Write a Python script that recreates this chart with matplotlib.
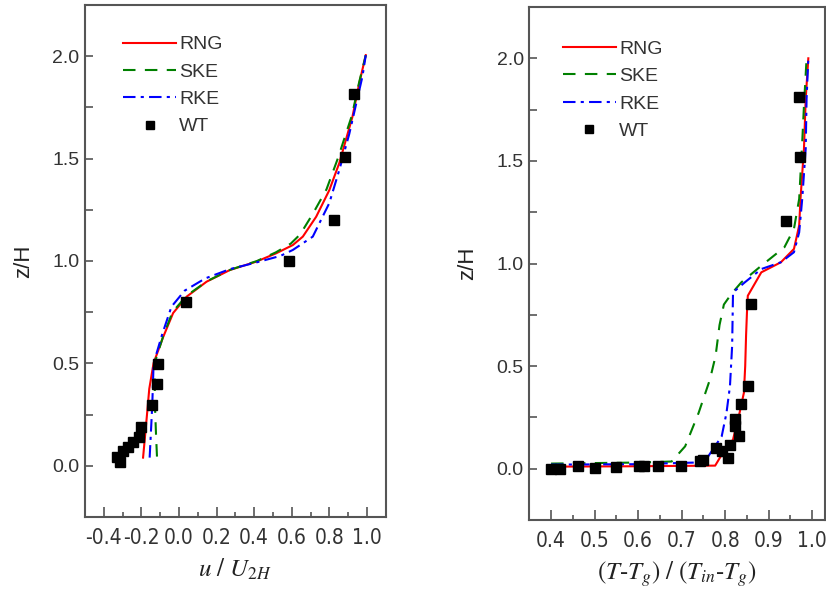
import matplotlib
matplotlib.use('Agg')
import matplotlib.pyplot as plt
from matplotlib.ticker import MultipleLocator

plt.rcParams['font.family'] = ['Liberation Sans', 'DejaVu Sans']
plt.rcParams['mathtext.fontset'] = 'stix'

# ---- panel a : velocidad ----
u_wt_x = [0.932, 0.885, 0.826, 0.583, 0.038, -0.110, -0.116, -0.142, -0.200,
          -0.211, -0.243, -0.269, -0.296, -0.328, -0.312]
u_wt_z = [1.815, 1.507, 1.200, 1.000, 0.800, 0.498, 0.400, 0.298, 0.190,
          0.141, 0.117, 0.093, 0.073, 0.044, 0.020]

u_rng_x = [-0.191, -0.175, -0.158, -0.135, -0.084, -0.031, 0.041, 0.147, 0.271, 0.412,
           0.518, 0.606, 0.659, 0.730, 0.800, 0.853, 0.923, 0.959, 0.994]
u_rng_z = [0.040, 0.200, 0.376, 0.502, 0.629, 0.746, 0.826, 0.899, 0.956, 0.997,
           1.038, 1.078, 1.119, 1.216, 1.346, 1.478, 1.704, 1.867, 2.005]

u_ske_x = [-0.117, -0.122, -0.128, -0.130, -0.085, -0.035, 0.040, 0.150, 0.275, 0.415,
           0.515, 0.595, 0.645, 0.712, 0.785, 0.845, 0.920, 0.958, 0.994]
u_ske_z = [0.045, 0.150, 0.300, 0.500, 0.630, 0.750, 0.830, 0.902, 0.958, 1.000,
           1.042, 1.085, 1.130, 1.230, 1.350, 1.500, 1.710, 1.870, 2.005]

u_rke_x = [-0.156, -0.150, -0.142, -0.135, -0.090, -0.040, 0.030, 0.140, 0.270, 0.420,
           0.540, 0.606, 0.712, 0.800, 0.853, 0.906, 0.976, 0.994]
u_rke_z = [0.040, 0.150, 0.300, 0.500, 0.640, 0.777, 0.855, 0.915, 0.960, 0.995,
           1.025, 1.054, 1.119, 1.283, 1.444, 1.620, 1.900, 2.005]

# ---- panel b : temperatura ----
t_wt_x = [0.400, 0.420, 0.462, 0.500, 0.549, 0.602, 0.614, 0.646, 0.699, 0.742, 0.750,
          0.779, 0.792, 0.807, 0.811, 0.822, 0.822, 0.831, 0.837, 0.852,
          0.859, 0.939, 0.972, 0.970]
t_wt_z = [0.000, 0.000, 0.011, 0.003, 0.006, 0.011, 0.011, 0.011, 0.011, 0.036, 0.044,
          0.100, 0.085, 0.052, 0.117, 0.207, 0.243, 0.158, 0.316, 0.403,
          0.802, 1.209, 1.519, 1.809]

t_rng_x = [0.400, 0.600, 0.777, 0.792, 0.818, 0.833, 0.843, 0.846, 0.848, 0.850,
           0.852, 0.883, 0.928, 0.958, 0.970, 0.973, 0.981, 0.985, 0.991]
t_rng_z = [0.010, 0.012, 0.015, 0.068, 0.142, 0.272, 0.370, 0.500, 0.650, 0.760,
           0.843, 0.957, 1.006, 1.071, 1.185, 1.315, 1.560, 1.804, 2.000]

t_ske_x = [0.400, 0.600, 0.677, 0.708, 0.739, 0.765, 0.778, 0.787, 0.797, 0.814,
           0.837, 0.883, 0.936, 0.958, 0.970, 0.977, 0.981, 0.987]
t_ske_z = [0.025, 0.030, 0.035, 0.109, 0.272, 0.435, 0.550, 0.700, 0.800, 0.851,
           0.908, 0.989, 1.079, 1.169, 1.315, 1.593, 1.770, 2.000]

t_rke_x = [0.400, 0.600, 0.731, 0.761, 0.792, 0.803, 0.811, 0.816, 0.818, 0.845,
           0.883, 0.928, 0.958, 0.970, 0.977, 0.985, 0.987, 0.991]
t_rke_z = [0.020, 0.022, 0.030, 0.060, 0.158, 0.272, 0.403, 0.600, 0.859, 0.908,
           0.973, 1.006, 1.055, 1.152, 1.315, 1.560, 1.804, 2.000]

gris = '#555555'

fig = plt.figure(figsize=(8.26, 5.9), dpi=100)
ax1 = fig.add_axes([85 / 826, 1 - 517 / 590, 300.7 / 826, 512 / 590])
ax2 = fig.add_axes([529.3 / 826, 1 - 520 / 590, 296 / 826, 513 / 590])


def dibujar(ax, rng, ske, rke, wt, xlim, xmaj, xmin, xlabel, leg_x, leg_y):
    ax.plot(rng[0], rng[1], color='#ff0000', lw=1.5, label='RNG')
    ax.plot(ske[0], ske[1], color='#008000', lw=1.5, ls=(0, (6, 4.5)), label='SKE')
    ax.plot(rke[0], rke[1], color='#0000ff', lw=1.5, ls=(0, (6, 2.5, 1.5, 2.5)), label='RKE')
    ax.plot(wt[0], wt[1], 's', color='black', ms=7, ls='none', label='WT')
    ax.set_xlim(*xlim)
    ax.set_ylim(-0.25, 2.25)
    ax.xaxis.set_major_locator(MultipleLocator(xmaj))
    ax.xaxis.set_minor_locator(MultipleLocator(xmin))
    ax.yaxis.set_major_locator(MultipleLocator(0.5))
    ax.yaxis.set_minor_locator(MultipleLocator(0.25))
    ax.tick_params(axis='both', which='both', direction='in', colors=gris,
                   labelcolor='#333333', width=1.2, top=False, right=False)
    ax.tick_params(axis='x', which='major', length=7, labelsize=15, pad=8)
    ax.tick_params(axis='x', which='minor', length=3.5)
    ax.tick_params(axis='y', which='major', length=6, labelsize=14, pad=4)
    ax.tick_params(axis='y', which='minor', length=6)
    ax.yaxis.set_major_formatter(matplotlib.ticker.FormatStrFormatter('%.1f'))
    ax.xaxis.set_major_formatter(matplotlib.ticker.FormatStrFormatter('%.1f'))
    for s in ax.spines.values():
        s.set_color(gris)
        s.set_linewidth(1.5)
    ax.set_ylabel('z/H', fontsize=16, color='#222222', labelpad=13)
    ax.set_xlabel(xlabel, fontsize=18, color='#222222', labelpad=6)
    ax.legend(loc='upper left', bbox_to_anchor=(leg_x, leg_y), frameon=False,
              fontsize=14, handlelength=2.75, handletextpad=0.15, labelspacing=0.5,
              borderpad=0, borderaxespad=0, markerscale=0.8, labelcolor='#333333')


dibujar(ax1, (u_rng_x, u_rng_z), (u_ske_x, u_ske_z), (u_rke_x, u_rke_z), (u_wt_x, u_wt_z),
        (-0.5, 1.1), 0.2, 0.1, r'$u\ /\ U_{2H}$', 0.126, 0.94)
dibujar(ax2, (t_rng_x, t_rng_z), (t_ske_x, t_ske_z), (t_rke_x, t_rke_z), (t_wt_x, t_wt_z),
        (0.35, 1.03), 0.1, 0.05, r'$(T\text{-}T_g)\ /\ (T_{in}\text{-}T_g)$', 0.113, 0.935)

# etiquetas del eje x mas estrechas, como en la figura original
for ax in (ax1, ax2):
    for lab in ax.get_xticklabels():
        lab.set_family('DejaVu Sans')
        lab.set_stretch('condensed')

fig.savefig('out.png', dpi=100)
